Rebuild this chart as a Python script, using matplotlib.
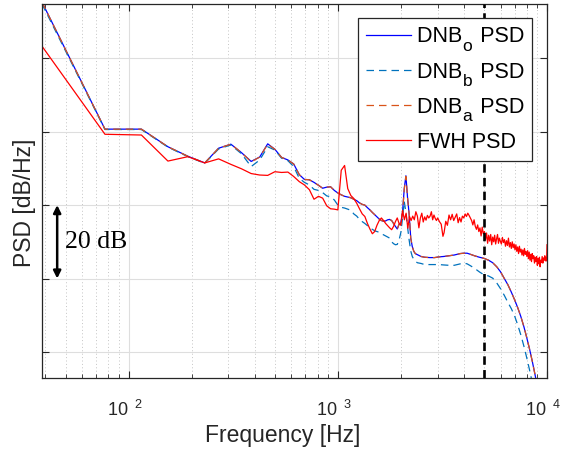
import matplotlib
matplotlib.use('Agg')
import numpy as np
import matplotlib.pyplot as plt
from matplotlib.ticker import FixedLocator, NullLocator, NullFormatter, LogLocator
from matplotlib.transforms import IdentityTransform, ScaledTranslation

plt.rcParams['font.family'] = ['Liberation Sans', 'DejaVu Sans']
plt.rcParams['mathtext.fontset'] = 'custom'
plt.rcParams['mathtext.rm'] = 'Liberation Sans'
plt.rcParams['mathtext.it'] = 'Liberation Sans:italic'
plt.rcParams['mathtext.bf'] = 'Liberation Sans:bold'

# 주파수 [Hz] / PSD [dB/Hz] (눈금 라벨이 없어서 임의 기준)
dnb_f = [38.5, 77, 115, 154, 192, 231, 269, 308, 346, 385,
         423, 462, 500, 538, 577, 615, 654, 692, 731, 769,
         808, 846, 885, 923, 962, 1000, 1038, 1077, 1115, 1154,
         1192, 1231, 1269, 1308, 1346, 1385, 1423, 1462, 1500, 1538,
         1577, 1615, 1654, 1692, 1731, 1769, 1808, 1846, 1885, 1923,
         1962, 2000, 2038, 2077, 2115, 2154, 2192, 2231, 2269, 2308,
         2346, 2400, 2500, 2600, 2750, 2900, 3050, 3200, 3400, 3600,
         3850, 4000, 4150, 4300, 4500, 4750, 5000, 5250, 5500, 5750,
         6000, 6250, 6500, 6750, 7000, 7250, 7500, 7750, 8000, 8250,
         8500, 8750, 9000, 9250]

dnb_o = [115.3, 80.7, 80.7, 75.9, 73.3, 71.5, 75.5, 76.6, 74.3, 71.9,
         73.1, 76.7, 75.2, 73.0, 72.3, 71.2, 68.3, 67.0, 66.9, 66.2,
         65.4, 64.6, 64.9, 65.0, 64.0, 63.3, 62.8, 62.4, 62.2, 62.0,
         61.6, 61.2, 60.6, 60.2, 60.0, 59.3, 58.7, 58.0, 57.4, 56.8,
         56.2, 55.8, 55.6, 55.7, 56.0, 56.1, 55.8, 55.0, 54.2, 53.5,
         54.8, 55.2, 58.0, 64.5, 68.0, 62.0, 57.5, 51.0, 48.7, 47.4,
         46.8, 46.5, 46.0, 45.8, 45.7, 45.7, 45.9, 46.0, 46.2, 46.4,
         46.8, 46.9, 46.9, 46.6, 46.2, 45.8, 45.5, 45.0, 44.3, 43.2,
         41.8, 40.0, 38.3, 36.3, 34.2, 32.0, 29.6, 26.9, 23.9, 20.8,
         17.5, 14.0, 10.5, 7.0]

dnb_b = [114.8, 80.6, 80.6, 75.8, 73.2, 71.4, 75.3, 76.4, 74.0, 70.5,
         72.3, 75.9, 75.0, 72.8, 72.1, 70.5, 67.3, 66.2, 65.5, 64.3,
         64.0, 63.4, 62.5, 62.3, 61.4, 60.0, 59.4, 59.2, 58.9, 58.6,
         57.6, 57.0, 56.1, 55.5, 55.0, 54.4, 53.7, 53.4, 53.0, 52.8,
         52.6, 52.2, 51.9, 51.6, 51.3, 51.0, 50.0, 49.5, 49.2, 49.3,
         50.5, 52.5, 56.5, 61.0, 58.0, 54.0, 50.5, 47.5, 46.0, 45.2,
         44.7, 44.3, 44.1, 43.8, 43.8, 43.8, 43.8, 43.7, 43.6, 43.6,
         44.0, 44.2, 44.0, 43.5, 42.8, 41.8, 41.0, 40.7, 40.1, 38.8,
         37.2, 35.4, 33.5, 31.8, 29.8, 27.3, 24.6, 21.6, 18.4, 15.1,
         11.7, 8.3, 5.0, 1.7]

dnb_a = [115.3, 80.7, 80.7, 75.9, 73.3, 71.5, 75.5, 76.6, 74.3, 71.8,
         73.1, 76.6, 75.2, 73.0, 72.3, 71.2, 68.3, 67.0, 66.9, 66.2,
         65.4, 64.6, 64.9, 65.0, 64.0, 63.3, 62.8, 62.4, 62.2, 62.0,
         61.6, 61.2, 60.6, 60.2, 60.0, 59.3, 58.7, 58.0, 57.4, 56.8,
         56.2, 55.8, 55.6, 55.7, 56.0, 56.1, 55.8, 55.0, 54.2, 53.5,
         54.8, 55.2, 58.0, 64.3, 67.8, 62.0, 57.5, 51.0, 48.7, 47.4,
         46.8, 46.5, 46.0, 45.8, 45.7, 45.7, 45.9, 46.0, 46.2, 46.4,
         46.8, 46.9, 46.9, 46.6, 46.2, 45.8, 45.5, 45.0, 44.3, 43.2,
         41.8, 40.0, 38.3, 36.3, 34.2, 32.0, 29.6, 26.9, 23.9, 20.8,
         17.5, 14.0, 10.5, 7.0]

fwh_f = [38.5, 77, 115, 154, 192, 231, 269, 308, 346, 385,
         423, 462, 500, 538, 577, 615, 654, 692, 731, 769,
         808, 846, 885, 923, 962, 1000, 1038, 1077, 1115, 1154,
         1192, 1231, 1269, 1308, 1346, 1385, 1423, 1462, 1500, 1538,
         1577, 1615, 1654, 1692, 1731, 1769, 1808, 1846, 1885, 1923,
         1962, 2000, 2040, 2080, 2120, 2160, 2200, 2240, 2280, 2320,
         2360, 2400, 2440, 2480, 2520, 2560, 2600, 2640, 2680, 2720,
         2760, 2800, 2840, 2880, 2920, 2960, 3000, 3060, 3120, 3180,
         3220, 3280, 3340, 3400, 3460, 3520, 3580, 3640, 3700, 3760,
         3820, 3880, 3940, 4000, 4060, 4120, 4180, 4240, 4300, 4360,
         4420, 4480, 4540, 4600, 4660, 4720, 4780, 4840, 4900, 4960,
         5020, 5080, 5140, 5200, 5260, 5320, 5380, 5440, 5500, 5560,
         5620, 5680, 5740, 5800, 5860, 5920, 5980, 6050, 6120, 6190,
         6260, 6330, 6400, 6470, 6540, 6610, 6680, 6750, 6820, 6890,
         6960, 7030, 7100, 7170, 7240, 7310, 7380, 7450, 7520, 7590,
         7660, 7730, 7800, 7870, 7940, 8010, 8080, 8150, 8220, 8290,
         8360, 8430, 8500, 8570, 8640, 8710, 8780, 8850, 8920, 8990,
         9060, 9130, 9200, 9270, 9340, 9410, 9480, 9550, 9620, 9690,
         9760, 9830, 9900, 9960, 10000]

fwh = [103.3, 79.3, 79.1, 72.0, 73.2, 71.5, 72.6, 71.1, 69.9, 68.6,
       68.2, 68.1, 69.1, 68.9, 69.0, 67.8, 66.4, 65.5, 64.2, 61.6,
       62.4, 61.9, 59.8, 59.0, 58.9, 58.7, 69.5, 70.8, 64.5, 62.6,
       61.8, 60.5, 59.0, 57.6, 56.9, 55.0, 53.5, 52.2, 52.8, 54.5,
       55.8, 56.5, 55.8, 55.0, 54.4, 53.8, 53.3, 54.2, 55.5, 56.5,
       55.0, 54.5, 58.5, 56.0, 57.8, 53.7, 56.9, 55.8, 57.0, 56.0,
       58.2, 57.0, 53.8, 56.5, 57.8, 55.4, 56.8, 55.9, 57.2, 56.5,
       57.0, 58.2, 56.0, 57.3, 56.4, 55.8, 56.5, 55.5, 54.8, 51.5,
       52.5, 55.6, 54.5, 57.3, 56.0, 57.5, 55.8, 56.7, 57.6, 55.2,
       56.6, 55.4, 57.0, 56.5, 57.6, 56.9, 57.8, 57.2, 56.5, 55.8,
       54.6, 56.0, 54.2, 53.4, 54.6, 52.8, 53.8, 51.6, 54.0, 52.2,
       52.8, 50.6, 52.4, 49.6, 51.8, 50.2, 52.0, 49.2, 51.3, 50.0,
       51.8, 49.4, 50.8, 52.0, 49.6, 51.0, 50.2, 49.4, 51.2, 49.8,
       50.6, 48.8, 50.3, 49.0, 51.0, 48.6, 49.8, 48.2, 50.0, 48.4,
       49.4, 47.8, 49.2, 47.4, 48.6, 46.8, 48.8, 47.2, 48.0, 46.4,
       47.8, 46.2, 48.2, 46.6, 47.4, 46.0, 47.6, 45.4, 47.2, 45.0,
       46.6, 44.6, 46.8, 45.4, 46.2, 44.2, 45.8, 44.6, 46.0, 43.6,
       45.4, 44.0, 45.8, 43.2, 45.0, 44.4, 46.0, 44.2, 45.6, 45.0,
       46.2, 44.8, 45.6, 44.8, 49.2]

f_cut = 5000
x_lim = [38.5, 1e4]
x_ticks = [1e2, 1e3, 1e4]
y_lim = [12.9, 114.8]
y_ticks = [20, 40, 60, 80, 100]
span_db = [40, 60]

# 범례: 아래첨자는 MATLAB처럼 크게 따로 그림
leg_names = ['DNB   PSD', 'DNB   PSD', 'DNB   PSD', 'FWH PSD']
leg_subs = ['o', 'b', 'a', '']

AX_COL = '#262626'
LEG_FS = 15.5

fig = plt.figure(figsize=(5.63, 4.53), dpi=100)
ax = fig.add_axes([0.0746, 0.1656, 0.8970, 0.8256])

ax.plot(dnb_f, dnb_o, color='#0000ff', lw=0.9, label=leg_names[0])
ax.plot(dnb_f, dnb_b, color='#0072BD', lw=0.9, ls=(0, (6, 4)), label=leg_names[1])
ax.plot(dnb_f, dnb_a, color='#D95319', lw=0.9, ls=(0, (6, 4)), label=leg_names[2])
ax.plot(fwh_f, fwh, color='#ff0000', lw=0.9, label=leg_names[3])
ax.axvline(f_cut, color='k', lw=1.9, ls=(0, (3.2, 2.0)), zorder=3)

ax.set_xscale('log')
ax.set_xlim(x_lim)
ax.set_ylim(y_lim)
ax.set_xticks(x_ticks, labels=[r'$10^{\enspace\,%d}$' % round(np.log10(t)) for t in x_ticks])
ax.xaxis.set_minor_locator(LogLocator(base=10, subs=np.arange(2, 10)))
ax.xaxis.set_minor_formatter(NullFormatter())
ax.yaxis.set_major_locator(FixedLocator(y_ticks))
ax.yaxis.set_minor_locator(NullLocator())
ax.set_yticklabels([])

ax.grid(True, which='major', color='#dedede', lw=0.8, ls='-')
ax.grid(True, which='minor', axis='x', color='#c4c4c4', lw=0.7, ls=(0, (1, 2.5)))
ax.set_axisbelow(True)

ax.tick_params(which='both', direction='in', top=True, right=True, color=AX_COL,
               labelcolor=AX_COL, labelsize=13, pad=16)
ax.tick_params(which='major', length=5, width=0.8)
ax.tick_params(which='minor', length=3, width=0.6)
for s in ax.spines.values():
    s.set_color(AX_COL)
    s.set_linewidth(0.9)
# MATLAB 눈금 라벨은 살짝 왼쪽으로 치우침
shift = ScaledTranslation(-3 / 72, 0, fig.dpi_scale_trans)
for lab in ax.get_xticklabels():
    lab.set_transform(lab.get_transform() + shift)

ax.set_xlabel('Frequency [Hz]', fontsize=16.5, color=AX_COL)
ax.set_ylabel('PSD [dB/Hz]', fontsize=16.5, color=AX_COL)
ax.xaxis.set_label_coords(0.477, -0.122)
ax.yaxis.set_label_coords(-0.012, 0.468)

# 20 dB 스케일 화살표
ax.annotate('', xy=(45.5, span_db[1]), xytext=(45.5, span_db[0]),
            arrowprops=dict(arrowstyle='<|-|>', color='k', lw=1.8,
                            mutation_scale=11, shrinkA=0, shrinkB=0))
ax.text(49.6, np.mean(span_db), '20 dB', family='Liberation Serif', fontsize=18.5,
        va='center', ha='left', color='k')

leg = ax.legend(loc='upper right', bbox_to_anchor=(0.971, 0.962), fontsize=LEG_FS,
                frameon=True, fancybox=False, edgecolor=AX_COL, framealpha=1,
                handlelength=2.1, labelspacing=0.66, borderpad=0.38,
                handletextpad=0.25, borderaxespad=0)
leg.get_frame().set_linewidth(0.9)
for t in leg.get_texts():
    t.set_color('k')

# 아래첨자 위치 계산
fig.canvas.draw()
rend = fig.canvas.get_renderer()
probe = fig.text(0, 0, 'DNB', fontsize=LEG_FS, va='baseline', transform=IdentityTransform())
pb = probe.get_window_extent(rend)
w_dnb, desc = pb.x1, -pb.y0
probe.remove()
for t, sub in zip(leg.get_texts(), leg_subs):
    if not sub:
        continue
    tb = t.get_window_extent(rend)
    fig.text(tb.x0 + w_dnb + 0.5, tb.y0 + desc - 8.4, sub, fontsize=12.5, color='k',
             va='baseline', transform=IdentityTransform(), zorder=10)

plt.savefig('out.png', dpi=100)
